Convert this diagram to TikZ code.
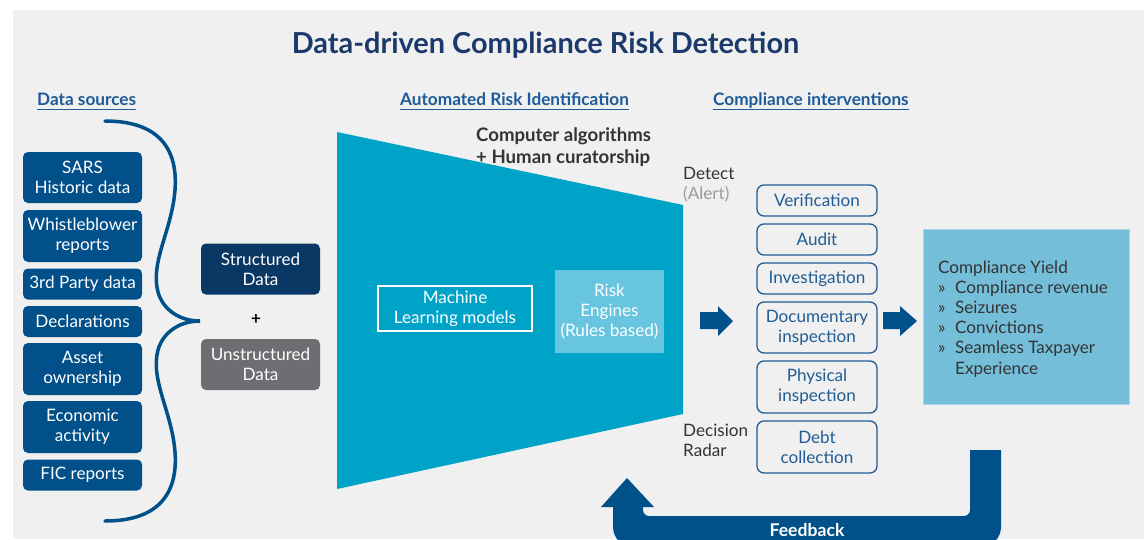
\documentclass[tikz,border=0pt]{standalone}
\usepackage{fontspec}
\setmainfont{Lato}
\definecolor{bgc}{HTML}{F0F0F0}
\definecolor{srcblue}{HTML}{02508A}
\definecolor{structblue}{HTML}{0A3865}
\definecolor{ungray}{HTML}{6D6E71}
\definecolor{trapc}{HTML}{00A3C8}
\definecolor{riskc}{HTML}{68C5DF}
\definecolor{yieldc}{HTML}{74BEDA}
\definecolor{yieldb}{HTML}{A6D7EA}
\definecolor{arrowblue}{HTML}{00508A}
\definecolor{titlec}{HTML}{1B3A6B}
\definecolor{headc}{HTML}{1D5B98}
\definecolor{intblue}{HTML}{215C94}
\definecolor{darktext}{HTML}{333333}
\definecolor{alertgray}{HTML}{9A9A9A}
\newcommand{\fsz}[2]{\fontsize{#1}{#2}\selectfont}
\begin{document}
\begin{tikzpicture}[x=1pt,y=-1pt,
  srcbox/.style={rectangle, rounded corners=5, fill=srcblue, text=white, minimum width=119, inner sep=0, align=center, font=\fsz{17.1}{20}},
  midbox/.style={rectangle, rounded corners=5, text=white, minimum width=119, minimum height=51, inner sep=0, align=center, font=\fsz{17.1}{20}},
  intbox/.style={rectangle, rounded corners=7, draw=intblue, line width=1.3, text=intblue, minimum width=120, inner sep=0, align=center, font=\fsz{17.1}{20}},
  heading/.style={anchor=base west, inner sep=0, text=headc, font=\bfseries\fsz{17.2}{20}},
  underline/.style={headc, line width=1},
  sidetext/.style={anchor=base west, inner sep=0, align=left, font=\fsz{17.1}{20}},
  blockarrow/.style={fill=arrowblue}
]
\useasboundingbox (0,0) rectangle (1144,539);
\begin{scope}
\clip (0,0) rectangle (1144,539);
\fill[white] (0,0) rectangle (1144,539);
\fill[bgc] (13,10) rectangle (1144,539);

% title
\node[anchor=base, inner sep=0, text=titlec, font=\bfseries\fsz{28.9}{32}] (title) at (545.5,53) {Data-driven Compliance Risk Detection};

% headings
\node[heading] (hds) at (37,105) {Data sources};
\draw[underline] ([yshift=-4pt]hds.base west) -- ([yshift=-4pt]hds.base east);
\node[heading] (hari) at (400,105) {Automated Risk Identification};
\draw[underline] ([yshift=-4pt]hari.base west) -- ([yshift=-4pt]hari.base east);
\node[heading] (hci) at (713,105) {Compliance interventions};
\draw[underline] ([yshift=-4pt]hci.base west) -- ([yshift=-4pt]hci.base east);

% data source boxes
\node[srcbox, minimum height=51] (sars) at (82.5,177.5) {SARS\\Historic data};
\node[srcbox, minimum height=52] (whis) at (82.5,236) {Whistleblower\\reports};
\node[srcbox, minimum height=31] (third) at (82.5,284) {3rd Party data};
\node[srcbox, minimum height=31] (decl) at (82.5,321.5) {Declarations};
\node[srcbox, minimum height=52] (asset) at (82.5,369) {Asset\\ownership};
\node[srcbox, minimum height=52] (econ) at (82.5,427) {Economic\\activity};
\node[srcbox, minimum height=31] (fic) at (82.5,475) {FIC reports};

% brace
\draw[arrowblue, line width=3.5, line cap=round]
  (105,121) .. controls (160,121) and (178,150) .. (175,190)
  .. controls (172,230) and (150,262) .. (158,292)
  .. controls (163,310) and (180,321) .. (200,321)
  .. controls (180,321) and (163,332) .. (158,350)
  .. controls (150,380) and (172,412) .. (175,452)
  .. controls (178,492) and (160,521) .. (105,521);

% structured / unstructured
\node[midbox, fill=structblue] (struct) at (260.5,269) {Structured\\Data};
\node[inner sep=0, font=\bfseries\fsz{17}{20}] (plus) at (256,320) {+};
\node[midbox, fill=ungray] (unstruct) at (260.5,364.5) {Unstructured\\Data};

% trapezoid
\fill[trapc] (337,132) -- (683,205) -- (683,414) -- (337,489) -- cycle;
\node[draw=white, line width=1.5, text=white, minimum width=154, minimum height=45, inner sep=0, align=center, font=\fsz{17.1}{20}] (ml) at (455,308.5) {Machine\\Learning models};
\node[fill=riskc, text=white, minimum width=109, minimum height=83, inner sep=0, align=center, font=\fsz{17.1}{20}] (risk) at (609.5,311.5) {Risk\\Engines\\(Rules based)};

\node[anchor=base west, inner sep=0, align=left, text=darktext, font=\bfseries\fsz{18.6}{21.5}] (comp) at (476,163) {Computer algorithms\\+ Human curatorship};

\node[sidetext, text=darktext] (detect) at (683,199) {Detect\\\textcolor{alertgray}{(Alert)}};
\node[sidetext, text=darktext] (radar) at (683,456) {Decision\\Radar};

% arrows
\fill[blockarrow] (700,312) -- (718,312) -- (718,306) -- (733,321) -- (718,336) -- (718,329) -- (700,329) -- cycle;
\fill[blockarrow] (883,312) -- (900,312) -- (900,306) -- (917,321) -- (900,336) -- (900,329) -- (883,329) -- cycle;

% interventions
\node[intbox, minimum height=31] (verif) at (817,200.5) {Verification};
\node[intbox, minimum height=31] (audit) at (817,239.5) {Audit};
\node[intbox, minimum height=31] (invest) at (817,278.5) {Investigation};
\node[intbox, minimum height=51] (docu) at (817,327.5) {Documentary\\inspection};
\node[intbox, minimum height=52] (phys) at (817,387) {Physical\\inspection};
\node[intbox, minimum height=52] (debt) at (817,447) {Debt\\collection};

% yield
\node[fill=yieldc, draw=yieldb, line width=1, minimum width=206, minimum height=175, inner sep=0] (yield) at (1026,316.5) {};
\node[anchor=base west, inner sep=0, align=left, text=darktext, font=\fsz{17.1}{20.2}] (yieldtxt) at (938,374) {Compliance Yield\\
\makebox[17pt][l]{»}Compliance revenue\\
\makebox[17pt][l]{»}Seizures\\
\makebox[17pt][l]{»}Convictions\\
\makebox[17pt][l]{»}Seamless Taxpayer\\
\makebox[17pt][l]{}Experience};

% feedback
\fill[arrowblue] (1001,450) -- (1001,527) .. controls (1001,538) and (992,547) .. (981,547)
  -- (633,547) .. controls (622,547) and (613,538) .. (613,527)
  -- (613,507) -- (601,507) -- (627,478) -- (654,507) -- (643,507)
  -- (643,510) .. controls (643,513.3) and (645.7,516) .. (649,516)
  -- (964,516) .. controls (967.3,516) and (970,513.3) .. (970,510)
  -- (970,450) -- cycle;
\node[anchor=base, inner sep=0, text=white, font=\bfseries\fsz{17.6}{20}] (fb) at (807,536) {Feedback};
\end{scope}
\end{tikzpicture}
\end{document}
